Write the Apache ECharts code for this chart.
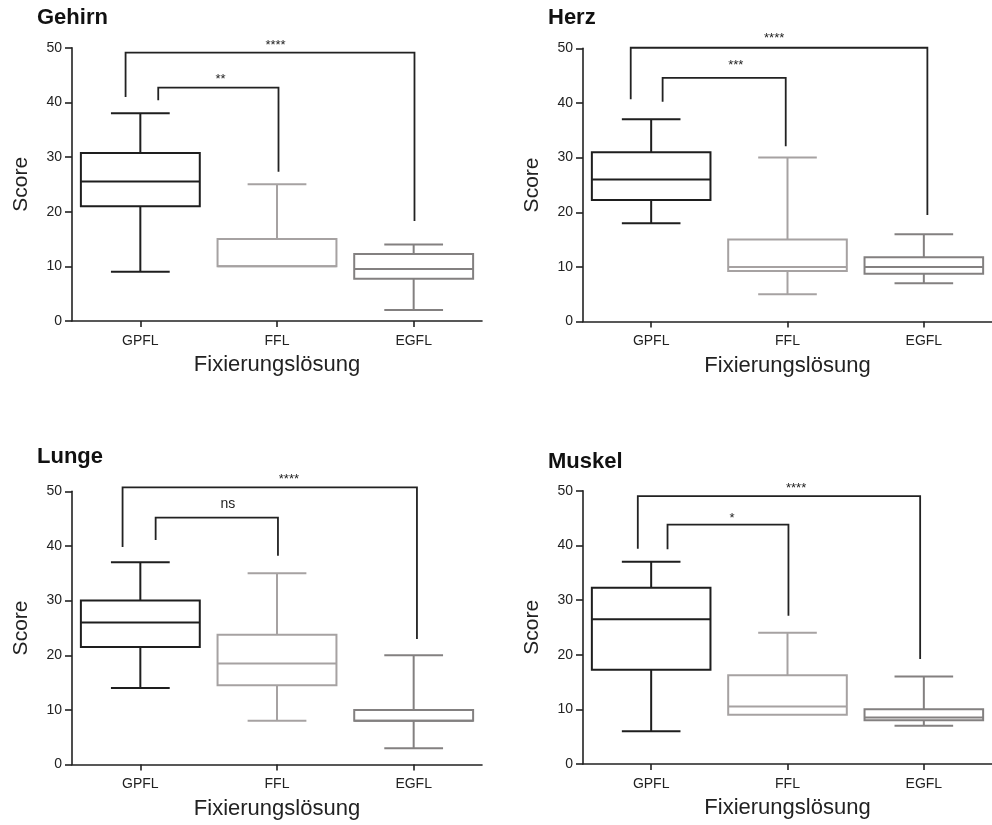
<!DOCTYPE html>
<html>
<head>
<meta charset="utf-8">
<script src="https://cdn.jsdelivr.net/npm/echarts@6/dist/echarts.min.js"></script>
<style>
  html, body { margin: 0; padding: 0; background: #fff; }
  #chart { width: 992px; height: 825px; }
</style>
</head>
<body>
<div id="chart"></div>
<script>
// Fixation solutions compared in every organ
const categories = ['GPFL', 'FFL', 'EGFL'];
const organs = ['Gehirn', 'Herz', 'Lunge', 'Muskel'];
const yTicks = [0, 10, 20, 30, 40, 50];

// Five-number summaries per solution: [min, Q1, median, Q3, max]
const gehirnStats = [[9, 21, 25.5, 30.75, 38], [10, 10, 10, 15, 25], [2, 7.75, 9.5, 12.25, 14]];
const herzStats   = [[18, 22.25, 26, 31, 37], [5, 9.25, 10, 15, 30], [7, 8.75, 10, 11.75, 16]];
const lungeStats  = [[14, 21.5, 26, 30, 37], [8, 14.5, 18.5, 23.75, 35], [3, 8, 8, 10, 20]];
const muskelStats = [[6, 17.25, 26.5, 32.25, 37], [9, 9, 10.5, 16.25, 24], [7, 8, 8.5, 10, 16]];

// Significance brackets: [xLeft, xRight, yBar, yLeftEnd, yRightEnd, xLabel, yLabel]
// x in category units (0 = GPFL, 1 = FFL, 2 = EGFL), y in score units
const gehirnBrackets = [[0.131, 1.011, 42.7, 40.4, 27.3, 0.587, 44.7], [-0.108, 2.006, 49.1, 41.0, 18.3, 0.989, 51.0]];
const herzBrackets   = [[0.084, 0.987, 44.6, 40.2, 32.1, 0.621, 47.4], [-0.150, 2.026, 50.1, 40.7, 19.5, 0.902, 52.4]];
const lungeBrackets  = [[0.112, 1.007, 45.2, 41.1, 38.2, 0.641, 47.7], [-0.130, 2.024, 50.7, 39.8, 23.0, 1.087, 52.7]];
const muskelBrackets = [[0.120, 1.007, 43.8, 39.3, 27.1, 0.593, 45.5], [-0.098, 1.973, 49.0, 39.4, 19.2, 1.063, 51.0]];

const gehirnSig = ['**', '****'];
const herzSig   = ['***', '****'];
const lungeSig  = ['ns', '****'];
const muskelSig = ['*', '****'];

const panelStats = [gehirnStats, herzStats, lungeStats, muskelStats];
const panelBrackets = [gehirnBrackets, herzBrackets, lungeBrackets, muskelBrackets];
const panelSig = [gehirnSig, herzSig, lungeSig, muskelSig];

// Layout and styling
const FONT = '"Liberation Sans", Arial, sans-serif';
const boxColors = ['#1e1e1e', '#a6a2a2', '#838080'];
const inkColor = '#222222';
const grids = [
  { left: 72,  top: 47.7, width: 410, height: 273.3 },
  { left: 583, top: 48.3, width: 410, height: 273.3 },
  { left: 72,  top: 491.3, width: 410, height: 273.3 },
  { left: 583, top: 490.7, width: 410, height: 273.3 }
];
const titlePos = [
  { left: 37, top: 7 },
  { left: 548, top: 7 },
  { left: 37, top: 446 },
  { left: 548, top: 451 }
];

const BOX_FRAC = 0.87;   // box width as share of a category band
const CAP_FRAC = 0.43;   // whisker cap width as share of a category band

function renderBox(params, api) {
  const cat = api.value(0);
  const vals = [api.value(1), api.value(2), api.value(3), api.value(4), api.value(5)];
  const band = api.size([1, 0])[0];
  const cx = api.coord([cat, 0])[0];
  const py = vals.map(v => api.coord([cat, v])[1]);
  const halfBox = band * BOX_FRAC / 2;
  const halfCap = band * CAP_FRAC / 2;
  const style = { stroke: boxColors[cat], lineWidth: 2, fill: null };
  const children = [];
  // upper whisker + cap
  if (vals[4] > vals[3]) {
    children.push({ type: 'line', shape: { x1: cx, y1: py[3], x2: cx, y2: py[4] }, style });
    children.push({ type: 'line', shape: { x1: cx - halfCap, y1: py[4], x2: cx + halfCap, y2: py[4] }, style });
  }
  // lower whisker + cap
  if (vals[0] < vals[1]) {
    children.push({ type: 'line', shape: { x1: cx, y1: py[1], x2: cx, y2: py[0] }, style });
    children.push({ type: 'line', shape: { x1: cx - halfCap, y1: py[0], x2: cx + halfCap, y2: py[0] }, style });
  }
  // box
  children.push({
    type: 'rect',
    shape: { x: cx - halfBox, y: py[3], width: halfBox * 2, height: py[1] - py[3] },
    style: { stroke: boxColors[cat], lineWidth: 2, fill: '#ffffff' }
  });
  // median
  children.push({ type: 'line', shape: { x1: cx - halfBox, y1: py[2], x2: cx + halfBox, y2: py[2] }, style });
  return { type: 'group', children };
}

function makeBracketRenderer(labels) {
  return function (params, api) {
    const xl = api.value(0), xr = api.value(1), yb = api.value(2), yl = api.value(3), yr = api.value(4);
    const xt = api.value(5), yt = api.value(6);
    const p1 = api.coord([xl, yl]);
    const p2 = api.coord([xl, yb]);
    const p3 = api.coord([xr, yb]);
    const p4 = api.coord([xr, yr]);
    const pt = api.coord([xt, yt]);
    const text = labels[params.dataIndex];
    const isStar = text.charAt(0) === '*';
    return {
      type: 'group',
      children: [
        {
          type: 'polyline',
          shape: { points: [p1, p2, p3, p4] },
          style: { stroke: inkColor, lineWidth: 1.8, fill: null }
        },
        {
          type: 'text',
          x: pt[0],
          y: pt[1] + (isStar ? 3 : 0),
          style: {
            text: text,
            fill: inkColor,
            font: (isStar ? '13px ' : '14px ') + FONT,
            align: 'center',
            verticalAlign: 'middle'
          }
        }
      ]
    };
  };
}

const option = {
  backgroundColor: '#ffffff',
  animation: false,
  title: organs.map((name, i) => ({
    text: name,
    left: titlePos[i].left,
    top: titlePos[i].top,
    padding: 0,
    textStyle: { fontFamily: FONT, fontSize: 22, fontWeight: 'bold', color: '#111' }
  })),
  grid: grids,
  xAxis: [],
  yAxis: [],
  series: []
};

organs.forEach((name, i) => {
  // visible category axis
  option.xAxis.push({
    type: 'category',
    gridIndex: i,
    data: categories,
    boundaryGap: true,
    name: 'Fixierungslösung',
    nameLocation: 'middle',
    nameGap: 33,
    nameTextStyle: { fontFamily: FONT, fontSize: 22, color: '#222' },
    axisLine: { show: true, onZero: false, lineStyle: { color: inkColor, width: 1.6 } },
    axisTick: { show: true, alignWithLabel: true, length: 6, lineStyle: { color: inkColor, width: 1.6 } },
    axisLabel: { fontFamily: FONT, fontSize: 14, color: '#222', margin: 13 },
    splitLine: { show: false }
  });
  // hidden value axis sharing the same band, used to place brackets
  option.xAxis.push({
    type: 'value',
    gridIndex: i,
    min: -0.5,
    max: 2.5,
    show: false,
    splitLine: { show: false }
  });
  option.yAxis.push({
    type: 'value',
    gridIndex: i,
    min: yTicks[0],
    max: yTicks[yTicks.length - 1],
    interval: 10,
    name: 'Score',
    nameLocation: 'middle',
    nameGap: 40,
    nameTextStyle: { fontFamily: FONT, fontSize: 21, color: '#222' },
    axisLine: { show: true, onZero: false, lineStyle: { color: inkColor, width: 1.6 } },
    axisTick: { show: true, length: 7, lineStyle: { color: inkColor, width: 1.6 } },
    axisLabel: { fontFamily: FONT, fontSize: 14, color: '#222', margin: 10 },
    splitLine: { show: false }
  });

  option.series.push({
    type: 'custom',
    name: name,
    xAxisIndex: i * 2,
    yAxisIndex: i,
    renderItem: renderBox,
    encode: { x: 0, y: [1, 2, 3, 4, 5] },
    data: panelStats[i].map((s, c) => [c].concat(s)),
    z: 3
  });
  option.series.push({
    type: 'custom',
    name: name + ' Signifikanz',
    xAxisIndex: i * 2 + 1,
    yAxisIndex: i,
    renderItem: makeBracketRenderer(panelSig[i]),
    encode: { x: [0, 1], y: [2, 3, 4] },
    data: panelBrackets[i],
    clip: false,
    z: 4
  });
});

const chart = echarts.init(document.getElementById('chart'), null, { renderer: 'canvas' });
chart.setOption(option);
</script>
</body>
</html>
